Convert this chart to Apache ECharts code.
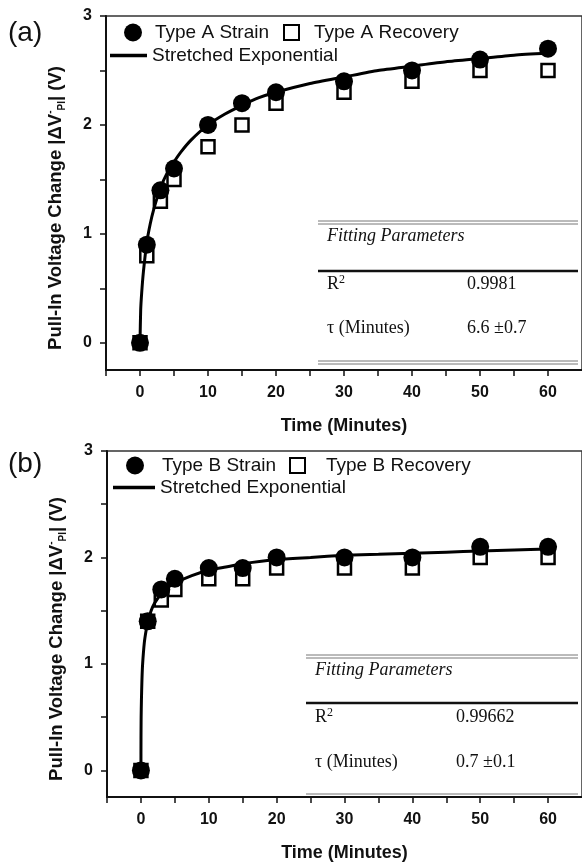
<!DOCTYPE html>
<html>
<head>
<meta charset="utf-8">
<script src="https://cdn.jsdelivr.net/npm/echarts@6/dist/echarts.min.js"></script>
<style>
  html, body { margin: 0; padding: 0; background: #fff; }
  #chart { width: 582px; height: 863px; }
</style>
</head>
<body>
<div id="chart"></div>
<script>
// ── Data ─────────────────────────────────────────────────────────────────────

const times = [0, 1, 3, 5, 10, 15, 20, 30, 40, 50, 60];

const strainA   = [0, 0.9, 1.4, 1.6, 2.0, 2.2, 2.3, 2.4, 2.5, 2.6, 2.7];
const recoveryA = [0, 0.8, 1.3, 1.5, 1.8, 2.0, 2.2, 2.3, 2.4, 2.5, 2.5];

const strainB   = [0, 1.4, 1.7, 1.8, 1.9, 1.9, 2.0, 2.0, 2.0, 2.1, 2.1];
const recoveryB = [0, 1.4, 1.6, 1.7, 1.8, 1.8, 1.9, 1.9, 1.9, 2.0, 2.0];

// fitted curves
const fitTimesA = [0, 0.1, 0.25, 0.5, 1, 1.5, 2, 3, 4, 5, 6, 7.5, 10, 12.5, 15, 17.5, 20, 25, 30, 35, 40, 45, 50, 55, 60];
const fitA      = [0, 0.3, 0.46, 0.65, 0.92, 1.09, 1.22, 1.42, 1.56, 1.66, 1.75, 1.86, 2.0, 2.1, 2.18, 2.25, 2.3, 2.38, 2.44, 2.5, 2.54, 2.58, 2.61, 2.64, 2.66];

const fitTimesB = [0, 0.01, 0.03, 0.07, 0.15, 0.25, 0.5, 0.75, 1, 1.5, 2, 3, 4, 5, 7.5, 10, 12.5, 15, 20, 25, 30, 35, 40, 45, 50, 55, 60];
const fitB      = [0, 0.3, 0.5, 0.65, 0.85, 1.0, 1.2, 1.31, 1.39, 1.5, 1.57, 1.66, 1.72, 1.76, 1.83, 1.88, 1.91, 1.94, 1.98, 2.0, 2.02, 2.03, 2.04, 2.05, 2.06, 2.07, 2.08];

const xLabels = [0, 10, 20, 30, 40, 50, 60];
const xTicks  = [-5, 0, 5, 10, 15, 20, 25, 30, 35, 40, 45, 50, 55, 60];
const yLabels = [0, 1, 2, 3];
const yTicks  = [0, 0.5, 1, 1.5, 2, 2.5, 3];

const paramsA = { r2: '0.9981',  tau: '6.6 \u00b10.7' };
const paramsB = { r2: '0.99662', tau: '0.7 \u00b10.1' };

// ── Helpers ──────────────────────────────────────────────────────────────────

const SANS  = 'Liberation Sans, Arial, sans-serif';
const SERIF = 'Liberation Serif, Times New Roman, serif';

const pairs = (xs, ys) => xs.map((x, i) => [x, ys[i]]);

function xAxisFor(gridIndex) {
  return {
    gridIndex, type: 'value', min: -5, max: 65,
    name: 'Time (Minutes)', nameLocation: 'middle', nameGap: 47,
    nameTextStyle: { fontFamily: SANS, fontWeight: 'bold', fontSize: 18, color: '#111' },
    axisLine: { onZero: false, lineStyle: { color: '#111', width: 2 } },
    axisTick: { customValues: xTicks, length: 6, lineStyle: { color: '#111', width: 1.5 } },
    axisLabel: { customValues: xLabels, margin: 15, fontFamily: SANS, fontWeight: 'bold', fontSize: 16, color: '#111' },
    splitLine: { show: false },
  };
}

function yAxisFor(gridIndex) {
  return {
    gridIndex, type: 'value', min: -0.25, max: 3,
    name: '{n|Pull-In Voltage Change |\u0394V}{sup|-}{sub|PI}{n|| (V)}',
    nameLocation: 'middle', nameGap: 39,
    nameTextStyle: {
      padding: [0, 30, 0, 0],
      rich: {
        n:   { fontFamily: SANS, fontWeight: 'bold', fontSize: 18.5, color: '#111', lineHeight: 22 },
        sup: { fontFamily: SANS, fontWeight: 'bold', fontSize: 10, color: '#111', lineHeight: 22, verticalAlign: 'top' },
        sub: { fontFamily: SANS, fontWeight: 'bold', fontSize: 10, color: '#111', lineHeight: 22, verticalAlign: 'bottom' },
      },
    },
    axisLine: { show: true, onZero: false, lineStyle: { color: '#111', width: 2 } },
    axisTick: { show: true, customValues: yTicks, length: 6, lineStyle: { color: '#111', width: 1.5 } },
    axisLabel: { customValues: yLabels, margin: 14, fontFamily: SANS, fontWeight: 'bold', fontSize: 16, color: '#111' },
    splitLine: { show: false },
  };
}

function seriesFor(idx, tag, strain, recovery, fitX, fitY) {
  return [
    {
      name: `Type ${tag} Strain`, type: 'scatter', xAxisIndex: idx, yAxisIndex: idx,
      symbol: 'circle', symbolSize: 18, itemStyle: { color: '#000', opacity: 1 }, z: 2,
      data: pairs(times, strain),
    },
    {
      name: 'Stretched Exponential', type: 'line', xAxisIndex: idx, yAxisIndex: idx,
      symbol: 'none', smooth: 0.2,
      lineStyle: { color: '#000', width: 3 }, itemStyle: { color: '#000' }, z: 3,
      data: pairs(fitX, fitY),
    },
    {
      name: `Type ${tag} Recovery`, type: 'scatter', xAxisIndex: idx, yAxisIndex: idx,
      symbol: 'rect', symbolSize: 13,
      itemStyle: { color: 'rgba(0,0,0,0)', borderColor: '#000', borderWidth: 2.5, opacity: 1 }, z: 4,
      data: pairs(times, recovery),
    },
  ];
}

const legendText = { fontFamily: SANS, fontSize: 19, color: '#111' };

// one legend per entry so each can sit where the original put it
function legendsFor(tag, y0, y1, offs) {
  const base = { padding: 0, selectedMode: false };
  return [
    { ...base, data: [`Type ${tag} Strain`], left: offs.c, top: y0 - 9, itemWidth: 18, itemHeight: 18,
      textStyle: { ...legendText, padding: [0, 0, 0, offs.cPad] } },
    { ...base, data: [`Type ${tag} Recovery`], left: offs.s, top: y0 - 9, itemWidth: 15, itemHeight: 15,
      textStyle: { ...legendText, padding: [0, 0, 0, offs.sPad] } },
    { ...base, data: [{ name: 'Stretched Exponential', icon: 'rect' }], left: offs.l, top: y1 - 9,
      itemWidth: offs.lw, itemHeight: 3.5, textStyle: { ...legendText } },
  ];
}

// table of fitting parameters, drawn as plain graphics
function tableFor(x0, x1, yTop, yRule, yR2, yTau, yBot, xVal, p) {
  const hl = (y, w, c) => ({ type: 'line', shape: { x1: x0, y1: y, x2: x1, y2: y }, style: { stroke: c, lineWidth: w } });
  const txt = (x, y, text, extra = {}) => ({
    type: 'text', x, y,
    style: { text, fill: '#111', font: `18px ${SERIF}`, verticalAlign: 'middle', ...extra },
  });
  return [
    hl(yTop, 1, '#777'), hl(yTop + 3, 1, '#777'),
    txt(x0 + 9, yTop + 15, 'Fitting Parameters', { font: `italic 18px ${SERIF}` }),
    hl(yRule, 2.5, '#111'),
    txt(x0 + 9, yR2, '{r|R}{s|2}', {
      rich: { r: { font: `18px ${SERIF}`, fill: '#111', lineHeight: 20 },
              s: { font: `12px ${SERIF}`, fill: '#111', lineHeight: 20, verticalAlign: 'top' } },
    }),
    txt(xVal, yR2, p.r2),
    txt(x0 + 9, yTau, '\u03c4 (Minutes)'),
    txt(xVal, yTau, p.tau),
    hl(yBot, 1, '#777'), hl(yBot + 3, 1, '#777'),
  ];
}

// ── Chart ────────────────────────────────────────────────────────────────────

const chart = echarts.init(document.getElementById('chart'), null, { renderer: 'canvas' });

chart.setOption({
  animation: false,
  backgroundColor: '#fff',
  grid: [
    { left: 106, top: 16,  width: 481, height: 354, show: true, borderColor: '#333', borderWidth: 1.5 },
    { left: 107, top: 451, width: 481, height: 352, show: true, borderColor: '#333', borderWidth: 1.5 },
  ],
  xAxis: [xAxisFor(0), xAxisFor(1)],
  yAxis: [yAxisFor(0), yAxisFor(1)],
  legend: [
    ...legendsFor('A', 32, 55, { c: 124, cPad: 8, s: 283, sPad: 10, l: 110, lw: 37 }),
    ...legendsFor('B', 465, 487, { c: 126, cPad: 13, s: 289, sPad: 16, l: 113, lw: 42 }),
  ],
  series: [
    ...seriesFor(0, 'A', strainA, recoveryA, fitTimesA, fitA),
    ...seriesFor(1, 'B', strainB, recoveryB, fitTimesB, fitB),
  ],
  graphic: [
    { type: 'text', x: 8, y: 33, style: { text: '(a)', font: `28px ${SANS}`, fill: '#111', verticalAlign: 'middle' } },
    { type: 'text', x: 8, y: 464, style: { text: '(b)', font: `28px ${SANS}`, fill: '#111', verticalAlign: 'middle' } },
    ...tableFor(318, 578, 221, 271, 284, 328, 361, 467, paramsA),
    ...tableFor(306, 578, 655, 703, 717, 762, 794, 456, paramsB),
  ],
});
</script>
</body>
</html>
